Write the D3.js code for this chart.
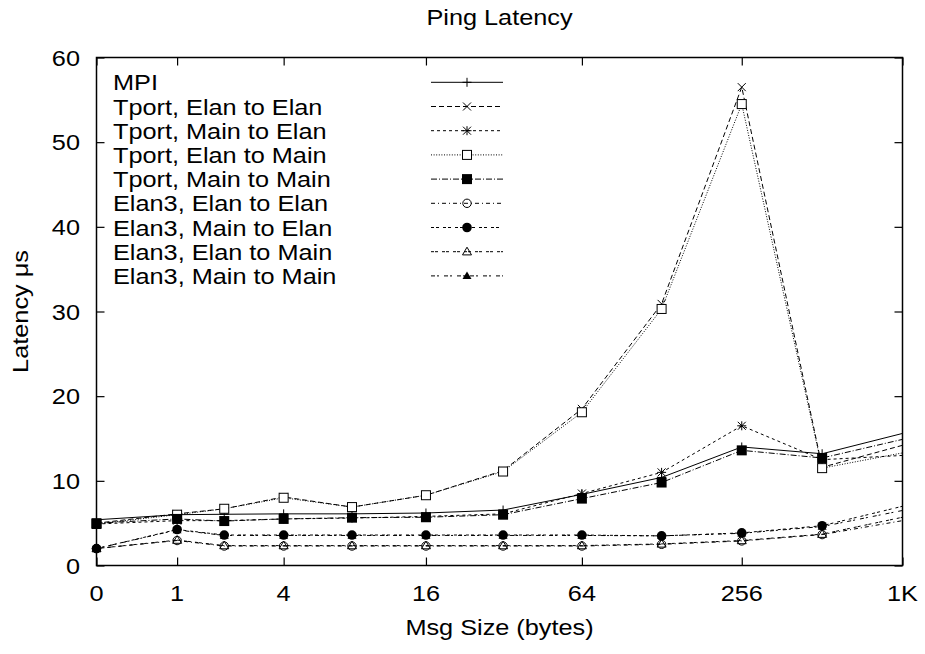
<!DOCTYPE html>
<html>
<head>
<meta charset="utf-8">
<script src="https://cdn.jsdelivr.net/npm/d3@7"></script>
<style>
  html, body { margin: 0; padding: 0; background: #fff; }
  svg { display: block; }
  text { font-family: "Liberation Sans", Arial, Helvetica, sans-serif; fill: #000; }
</style>
</head>
<body>
<svg id="chart" width="925" height="654"></svg>
<script>
// ---------------- DATA ----------------
const title = "Ping Latency";
const xLabel = "Msg Size (bytes)";
const yLabel = "Latency \u03bcs";
const msgSizes = [0, 1, 2, 4, 8, 16, 32, 64, 128, 256, 512, 1024];
const xTickValues = [0, 1, 4, 16, 64, 256, 1024];
const xTickLabels = ["0", "1", "4", "16", "64", "256", "1K"];
const yTickValues = [0, 10, 20, 30, 40, 50, 60];

const seriesNames = [
  "MPI",
  "Tport, Elan to Elan",
  "Tport, Main to Elan",
  "Tport, Elan to Main",
  "Tport, Main to Main",
  "Elan3, Elan to Elan",
  "Elan3, Main to Elan",
  "Elan3, Elan to Main",
  "Elan3, Main to Main"
];
const mpi       = [5.4, 6.0, 6.05, 6.1, 6.1, 6.2, 6.55, 8.4, 10.4, 14.0, 13.2, 15.6];
const tportE2E  = [5.0, 6.1, 6.7, 8.1, 6.9, 8.3, 11.2, 18.5, 30.9, 56.5, 11.6, 14.2];
const tportM2E  = [4.9, 5.3, 5.3, 5.5, 5.6, 5.8, 6.1, 8.5, 11.0, 16.5, 12.5, 13.0];
const tportE2M  = [4.9, 6.0, 6.7, 8.0, 6.9, 8.3, 11.1, 18.1, 30.3, 54.5, 11.5, 13.3];
const tportM2M  = [5.0, 5.5, 5.25, 5.5, 5.65, 5.7, 6.0, 7.9, 9.8, 13.6, 12.7, 14.9];
const elanE2E   = [2.0, 2.95, 2.3, 2.3, 2.3, 2.3, 2.3, 2.3, 2.5, 2.9, 3.65, 5.3];
const elanM2E   = [2.0, 4.25, 3.6, 3.6, 3.6, 3.6, 3.6, 3.6, 3.5, 3.85, 4.7, 7.0];
const elanE2M   = [2.0, 3.0, 2.35, 2.35, 2.35, 2.35, 2.35, 2.35, 2.55, 2.95, 3.7, 5.7];
const elanM2M   = [2.0, 4.2, 3.55, 3.55, 3.55, 3.55, 3.55, 3.55, 3.5, 3.8, 4.6, 6.5];
const seriesValues = [mpi, tportE2E, tportM2E, tportE2M, tportM2M, elanE2E, elanM2E, elanE2M, elanM2M];

// ---------------- STYLE ----------------
const dashes = ["", "5,3", "3,3", "1,1.6", "6,2,1,2", "4,3,1,3", "3,2,3,4", "3,1,3,4", "4,2,2,5"];
const markers = ["plus", "cross", "star", "box", "boxFill", "circle", "circleFill", "tri", "triFill"];

const plotL = 96.5, plotR = 902.5, plotT = 57.5, plotB = 565.5;
const FS = 22, SX = 1.15;

const svg = d3.select("#chart");
const lg2 = s => Math.log2(s + 1);
const xMax = 10;
const x = d3.scaleLinear().domain([0, xMax]).range([plotL, plotR]);
const y = d3.scaleLinear().domain([0, 60]).range([plotB, plotT]);

function txt(g, str, tx, ty, anchor, rot) {
  return g.append("text")
    .attr("transform", `translate(${tx},${ty})` + (rot ? ` rotate(${rot})` : "") + ` scale(${SX},1)`)
    .attr("text-anchor", anchor)
    .attr("font-size", FS)
    .text(str);
}

svg.append("defs").append("clipPath").attr("id", "plotClip")
  .append("rect").attr("x", plotL).attr("y", plotT)
  .attr("width", plotR - plotL).attr("height", plotB - plotT);

// Axes (inward ticks, mirrored)
const tickLen = 8;
const xt = xTickValues.map(v => Math.min(lg2(v), xMax));
const xAxisB = d3.axisBottom(x).tickValues(xt).tickSize(-tickLen).tickFormat("");
const xAxisT = d3.axisTop(x).tickValues(xt).tickSize(-tickLen).tickFormat("");
const yAxisL = d3.axisLeft(y).tickValues(yTickValues).tickSize(-tickLen).tickFormat("");
const yAxisR = d3.axisRight(y).tickValues(yTickValues).tickSize(-tickLen).tickFormat("");
[[xAxisB, `translate(0,${plotB})`], [xAxisT, `translate(0,${plotT})`],
 [yAxisL, `translate(${plotL},0)`], [yAxisR, `translate(${plotR},0)`]].forEach(([ax, tr]) => {
  const g = svg.append("g").attr("transform", tr).call(ax);
  g.select(".domain").remove();
  g.selectAll(".tick line").attr("stroke", "#000").attr("stroke-width", 1.2);
});

svg.append("rect").attr("x", plotL).attr("y", plotT)
  .attr("width", plotR - plotL).attr("height", plotB - plotT)
  .attr("fill", "none").attr("stroke", "#000").attr("stroke-width", 1.5);

// Tick labels
const labels = svg.append("g");
xTickValues.forEach((v, i) => txt(labels, xTickLabels[i], x(xt[i]), 601, "middle"));
yTickValues.forEach(v => txt(labels, String(v), 80, y(v) + 8, "end"));

// Titles
txt(svg, title, (plotL + plotR) / 2, 25, "middle");
txt(svg, xLabel, (plotL + plotR) / 2, 635, "middle");
txt(svg, yLabel, 28, (plotT + plotB) / 2, "middle", -90);

// Marker drawing
function drawMarker(g, type, cx, cy) {
  const k = g.append("g").attr("transform", `translate(${cx},${cy})`);
  const st = sel => sel.attr("stroke", "#000").attr("stroke-width", 1).attr("fill", "none");
  const ln = (x1, y1, x2, y2) => st(k.append("line").attr("x1", x1).attr("y1", y1).attr("x2", x2).attr("y2", y2));
  const s = 4.5;
  if (type === "plus" || type === "star") { ln(-s, 0, s, 0); ln(0, -s, 0, s); }
  if (type === "cross" || type === "star") { ln(-4, -4, 4, 4); ln(-4, 4, 4, -4); }
  if (type === "box") st(k.append("rect").attr("x", -4.5).attr("y", -4.5).attr("width", 9).attr("height", 9)).attr("fill", "#fff");
  if (type === "boxFill") k.append("rect").attr("x", -5).attr("y", -5).attr("width", 10).attr("height", 10).attr("fill", "#000");
  if (type === "circle") st(k.append("circle").attr("r", 4.2));
  if (type === "circleFill") k.append("circle").attr("r", 4.8).attr("fill", "#000");
  if (type === "tri") st(k.append("path").attr("d", "M0,-4.5L4.5,3.2L-4.5,3.2Z"));
  if (type === "triFill") k.append("path").attr("d", "M0,-4.5L4.5,3.2L-4.5,3.2Z").attr("fill", "#000");
}

// Series (lines clipped to the plot; points outside the x range are not drawn)
const line = d3.line().x(d => x(lg2(d[0]))).y(d => y(d[1]));
const plot = svg.append("g").attr("clip-path", "url(#plotClip)");
seriesValues.forEach((vals, i) => {
  const pts = msgSizes.map((s, j) => [s, vals[j]]);
  plot.append("path").attr("d", line(pts))
    .attr("fill", "none").attr("stroke", "#000").attr("stroke-width", 1)
    .attr("stroke-dasharray", dashes[i] || null);
});
const pointsG = svg.append("g");
seriesValues.forEach((vals, i) => {
  msgSizes.forEach((s, j) => {
    if (lg2(s) <= xMax) drawMarker(pointsG, markers[i], x(lg2(s)), y(vals[j]));
  });
});

// Legend
const leg = svg.append("g");
seriesNames.forEach((name, i) => {
  const cy = 82.3 + i * 24.2;
  txt(leg, name, 113, cy + 8, "start");
  leg.append("line").attr("x1", 431).attr("x2", 503).attr("y1", cy).attr("y2", cy)
    .attr("stroke", "#000").attr("stroke-width", 1).attr("stroke-dasharray", dashes[i] || null);
  drawMarker(leg, markers[i], 467, cy);
});
</script>
</body>
</html>
